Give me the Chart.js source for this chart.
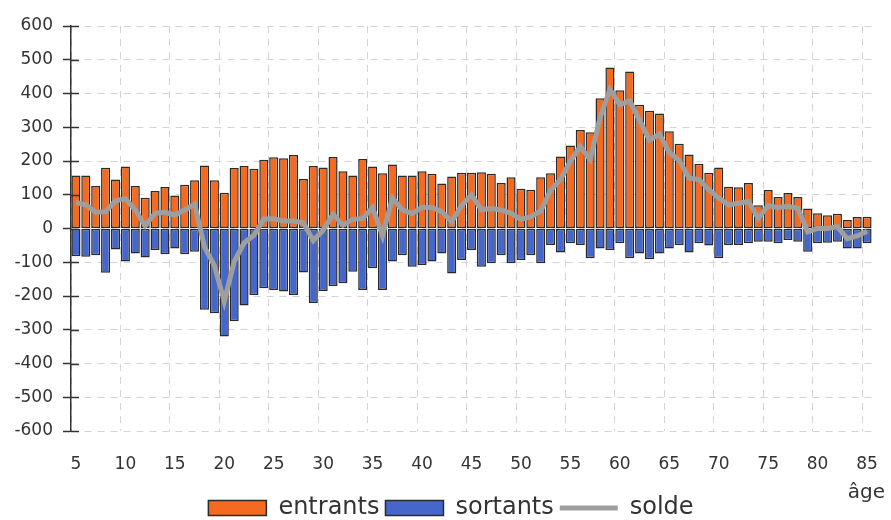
<!DOCTYPE html>
<html>
<head>
<meta charset="utf-8">
<script src="https://cdn.jsdelivr.net/npm/chart.js@4.4.0/dist/chart.umd.min.js"></script>
<style>
html,body{margin:0;padding:0;background:#ffffff;}
#wrap{width:891px;height:520px;position:relative;}
</style>
</head>
<body>
<div id="wrap"><canvas id="c" width="891" height="520"></canvas></div>
<script>
// Categories: age
const ages = [5,6,7,8,9,10,11,12,13,14,15,16,17,18,19,20,21,22,23,24,25,26,27,28,29,30,31,32,33,34,35,36,37,38,39,40,41,42,43,44,45,46,47,48,49,50,51,52,53,54,55,56,57,58,59,60,61,62,63,64,65,66,67,68,69,70,71,72,73,74,75,76,77,78,79,80,81,82,83,84,85];

// Series values
const entrants = [157,157,126,180,145,184,126,91,111,123,
  98,130,143,187,143,106,179,185,177,204,
  211,208,218,147,185,181,212,170,157,206,
  184,164,190,157,157,170,162,133,154,165,
  165,167,162,135,152,118,115,152,164,213,
  246,292,285,386,477,410,465,367,349,341,
  288,251,219,192,165,181,124,122,135,69,
  114,93,105,93,59,45,39,44,25,34,
  35];

const sortants = [-82,-84,-79,-131,-62,-98,-74,-86,-64,-76,
  -59,-76,-69,-241,-251,-320,-275,-228,-197,-177,
  -182,-187,-197,-130,-221,-185,-170,-162,-128,-182,
  -118,-182,-98,-79,-113,-108,-98,-74,-133,-93,
  -64,-113,-103,-79,-103,-93,-79,-103,-49,-71,
  -44,-49,-88,-59,-64,-44,-88,-74,-91,-74,
  -59,-49,-71,-44,-50,-88,-49,-49,-44,-39,
  -39,-44,-34,-39,-69,-44,-42,-39,-59,-59,
  -44];

const solde = [77,70,48,50,82,88,55,8,45,48,
  40,55,72,-55,-110,-216,-98,-43,-20,28,
  29,22,22,17,-36,-5,42,10,27,30,
  62,-22,90,55,44,63,62,50,20,68,
  100,56,59,55,45,27,35,52,113,145,
  200,243,205,328,412,367,378,320,262,280,
  225,202,150,145,115,90,70,75,80,30,
  68,62,66,60,-10,0,0,5,-30,-22,
  -8];

// Tick settings
const yMin = -600, yMax = 600, yStep = 100;
const xLabelEvery = 5;
const seriesNames = ['entrants', 'sortants', 'solde'];
const axisTitleX = 'âge';

const FONT = '"DejaVu Sans", "Liberation Sans", Arial, sans-serif';
const AXIS_COLOR = '#333333';

// "âge" caption under the last tick, and tick marks that cross the y axis
const extrasPlugin = {
  id: 'extras',
  afterDraw(chart) {
    const ctx = chart.ctx;
    const ys = chart.scales.y;
    ctx.save();
    ctx.strokeStyle = AXIS_COLOR;
    ctx.lineWidth = 1.5;
    ctx.beginPath();
    ys.ticks.forEach(t => {
      const py = Math.round(ys.getPixelForValue(t.value)) + 0.5;
      ctx.moveTo(ys.right, py);
      ctx.lineTo(ys.right + 8, py);
    });
    ctx.stroke();
    ctx.font = '20px ' + FONT;
    ctx.fillStyle = AXIS_COLOR;
    ctx.textAlign = 'right';
    ctx.textBaseline = 'middle';
    ctx.fillText(axisTitleX, chart.chartArea.right + 13, 493);
    ctx.restore();
  }
};

new Chart(document.getElementById('c'), {
  type: 'bar',
  data: {
    labels: ages,
    datasets: [
      {
        label: seriesNames[0],
        data: entrants,
        backgroundColor: '#F56A1E',
        borderColor: '#2a2a2a',
        borderWidth: 1.5,
        borderSkipped: false,
        pointStyle: 'rect',
        stack: 'flux',
        barPercentage: 0.92,
        categoryPercentage: 1.0,
        order: 1
      },
      {
        label: seriesNames[1],
        data: sortants,
        backgroundColor: '#4567CC',
        borderColor: '#2a2a2a',
        borderWidth: 1.5,
        borderSkipped: false,
        pointStyle: 'rect',
        stack: 'flux',
        barPercentage: 0.92,
        categoryPercentage: 1.0,
        order: 1
      },
      {
        type: 'line',
        label: seriesNames[2],
        data: solde,
        borderColor: '#9e9e9e',
        backgroundColor: '#9e9e9e',
        borderWidth: 5,
        pointRadius: 0,
        pointHoverRadius: 0,
        pointStyle: 'line',
        tension: 0,
        stack: 'solde',
        order: -1
      }
    ]
  },
  options: {
    responsive: false,
    animation: false,
    devicePixelRatio: 1,
    layout: { padding: { top: 26, right: 19, bottom: -10, left: 30 } },
    plugins: {
      tooltip: { enabled: false },
      legend: {
        position: 'bottom',
        labels: {
          usePointStyle: true,
          pointStyleWidth: 58,
          boxHeight: 15,
          padding: 6,
          color: AXIS_COLOR,
          font: { family: FONT, size: 24 },
          sort: (a, b) => a.datasetIndex - b.datasetIndex
        }
      }
    },
    scales: {
      x: {
        stacked: true,
        offset: true,
        grid: {
          offset: true,
          drawTicks: true,
          tickLength: 23,
          tickColor: 'rgba(0,0,0,0)',
          lineWidth: 1,
          color: (ctx) => (ctx.index !== undefined && ages[ctx.index] % xLabelEvery === 0) ? '#d4d4d4' : 'rgba(0,0,0,0)'
        },
        border: { display: false, dash: [7, 6] },
        ticks: {
          autoSkip: false,
          maxRotation: 0,
          minRotation: 0,
          padding: 0,
          color: AXIS_COLOR,
          font: { family: FONT, size: 17 },
          callback: function(value, index) { return ages[index] % xLabelEvery === 0 ? String(ages[index]) : ''; }
        },
        afterFit(scale) { scale.height = 59; }
      },
      y: {
        stacked: true,
        min: yMin,
        max: yMax,
        grid: {
          color: '#d4d4d4',
          lineWidth: 1,
          drawTicks: true,
          tickLength: 8,
          tickColor: AXIS_COLOR,
          tickWidth: 1.5
        },
        border: { display: true, color: AXIS_COLOR, width: 1.5, dash: [7, 6] },
        ticks: {
          stepSize: yStep,
          padding: 10,
          color: AXIS_COLOR,
          font: { family: FONT, size: 17 }
        },
        afterFit(scale) {
          scale.width = 41;
          // let the tick labels extend into the left page margin without being clipped
          scale._computeLabelArea = () => undefined;
        }
      }
    }
  },
  plugins: [extrasPlugin]
});
</script>
</body>
</html>
